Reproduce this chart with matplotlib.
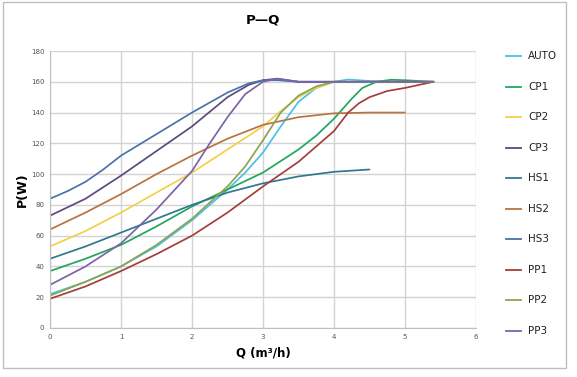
import matplotlib
matplotlib.use("Agg")
import matplotlib.pyplot as plt
from matplotlib.patches import Rectangle

names = ["AUTO", "CP1", "CP2", "CP3", "HS1", "HS2", "HS3", "PP1", "PP2", "PP3"]

q_auto = [0, 0.5, 1, 1.5, 2, 2.25, 2.5, 2.75, 3, 3.25, 3.5, 3.75, 4, 4.2, 4.5, 5, 5.4]
p_auto = [22, 30, 40, 53, 70, 80, 90, 101, 114, 131, 147, 156, 160, 161.5, 160.5, 160, 160]

q_cp1 = [0, 0.5, 1, 1.5, 2, 2.5, 3, 3.5, 3.75, 4, 4.25, 4.4, 4.6, 4.8, 5, 5.4]
p_cp1 = [37, 45, 54, 66, 79, 90, 101, 116, 125, 136, 149, 156, 160, 161.3, 161, 160]

q_cp2 = [0, 0.5, 1, 1.5, 2, 2.5, 3, 3.25, 3.5, 3.75, 4, 4.5, 5, 5.4]
p_cp2 = [53, 63, 75, 88, 101, 116, 131, 141, 150, 156, 160, 160, 160, 160]

q_cp3 = [0, 0.5, 1, 1.5, 2, 2.5, 2.8, 3, 3.2, 3.5, 4, 5, 5.4]
p_cp3 = [73, 84, 99, 115, 131, 150, 158, 161, 162, 160, 160, 160, 160]

q_hs1 = [0, 0.5, 1, 1.5, 2, 2.5, 3, 3.5, 4, 4.5]
p_hs1 = [45, 53, 62, 71, 80, 88, 94, 98.5, 101.5, 103]

q_hs2 = [0, 0.5, 1, 1.5, 2, 2.5, 3, 3.5, 4, 4.5, 5]
p_hs2 = [64, 75, 87, 100, 112, 123, 132, 137, 139.5, 140, 140]

q_hs3 = [0, 0.25, 0.5, 0.75, 1, 1.5, 2, 2.5, 2.8, 3, 3.2, 3.5, 4, 5, 5.4]
p_hs3 = [84, 89, 95, 103, 112, 126, 140, 153, 159, 161, 161, 160, 160, 160, 160]

q_pp1 = [0, 0.5, 1, 1.5, 2, 2.5, 3, 3.5, 4, 4.2, 4.35, 4.5, 4.75, 5, 5.4]
p_pp1 = [19, 27, 37, 48, 60, 75, 92, 108, 128, 140, 146, 150, 154, 156, 160]

q_pp2 = [0, 0.5, 1, 1.5, 2, 2.5, 2.75, 3, 3.25, 3.5, 3.75, 4, 4.5, 5, 5.4]
p_pp2 = [21, 30, 40, 54, 71, 92, 105, 122, 140, 151, 157, 160, 160, 160, 160]

q_pp3 = [0, 0.5, 1, 1.5, 2, 2.25, 2.5, 2.75, 3, 3.2, 3.5, 4, 5, 5.4]
p_pp3 = [28, 40, 55, 77, 102, 120, 137, 152, 160, 162, 160, 160, 160, 160]

colors = ["#4BC0E8", "#22A65C", "#F3D04A", "#5C4A80", "#31788C",
          "#B8733E", "#4A73A8", "#A43E3C", "#8BA64F", "#7B64A6"]

series = [(q_auto, p_auto), (q_cp1, p_cp1), (q_cp2, p_cp2), (q_cp3, p_cp3),
          (q_hs1, p_hs1), (q_hs2, p_hs2), (q_hs3, p_hs3), (q_pp1, p_pp1),
          (q_pp2, p_pp2), (q_pp3, p_pp3)]

x_ticks = [0, 1, 2, 3, 4, 5, 6]
y_ticks = [0, 20, 40, 60, 80, 100, 120, 140, 160, 180]

W, H = 577, 377
fig = plt.figure(figsize=(W / 100, H / 100), dpi=100)
ax = fig.add_axes([50 / W, 1 - 328 / H, 426 / W, 277 / H])

for (q, p), c, n in zip(series, colors, names):
    ax.plot(q, p, color=c, lw=1.25, label=n, solid_capstyle="round", solid_joinstyle="round")

ax.set_xlim(0, 6)
ax.set_ylim(0, 180)
ax.set_xticks(x_ticks)
ax.set_yticks(y_ticks)
ax.tick_params(labelsize=5, colors="#555555", length=0, pad=4)
ax.grid(True, color="#D3D3D3", lw=1.0)
ax.set_axisbelow(True)
for s in ["top", "right"]:
    ax.spines[s].set_visible(False)
for s in ["left", "bottom"]:
    ax.spines[s].set_color("#BFBFBF")
    ax.spines[s].set_linewidth(0.8)

fig.text(263 / W, 1 - 20 / H, "P\u2014Q", ha="center", va="center", fontsize=9.5, fontweight="bold")
fig.text(22 / W, 1 - 190 / H, "P(W)", ha="center", va="center", rotation=90, fontsize=9, fontweight="bold")
fig.text(263 / W, 1 - 353 / H, "Q (m\u00b3/h)", ha="center", va="center", fontsize=8.5, fontweight="bold")

# legend
for i, (n, c) in enumerate(zip(names, colors)):
    yy = 1 - (56 + i * 30.55) / H
    fig.add_artist(plt.Line2D([506 / W, 521 / W], [yy, yy], color=c, lw=1.3, transform=fig.transFigure))
    fig.text(528 / W, yy, n, ha="left", va="center", fontsize=7.5, color="#222222")

fig.add_artist(Rectangle((3 / W, 1 - 368 / H), 563 / W, 366 / H, transform=fig.transFigure,
                         fill=False, edgecolor="#BFBFBF", lw=1))

fig.savefig("out.png", dpi=100, facecolor="white")
